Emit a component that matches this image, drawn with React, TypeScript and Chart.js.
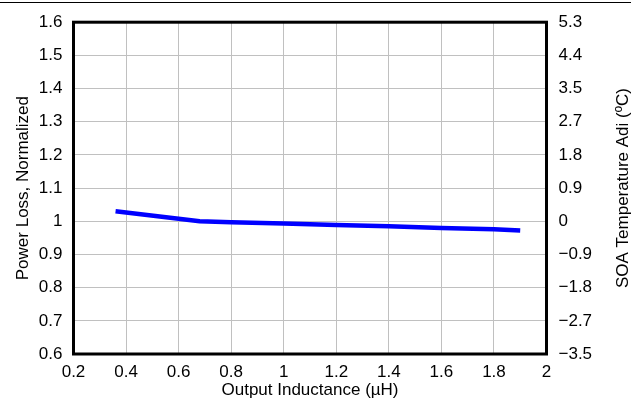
import React, { useEffect, useRef } from "react";
import { Chart, registerables } from "chart.js";

Chart.register(...registerables);

const inductance = [0.36, 0.68, 0.8, 1.0, 1.2, 1.4, 1.6, 1.8, 1.9];
const powerLoss = [1.03, 1.0, 0.997, 0.993, 0.989, 0.985, 0.98, 0.976, 0.972];
const rightTickLabels = ["−3.5", "−2.7", "−1.8", "−0.9", "0", "0.9", "1.8", "2.7", "3.5", "4.4", "5.3"];
const xTitle = "Output Inductance (µH)";
const yTitle = "Power Loss, Normalized";
const y2Title = "SOA Temperature Adi (ºC)";

const FONT = "'Liberation Sans', Arial, sans-serif";
const SIZE = 17;

const fmt = (v: any) => String(Number(Number(v).toFixed(2)));

export default function App() {
  const ref = useRef<HTMLCanvasElement | null>(null);
  useEffect(() => {
    if (!ref.current) return;
    const frame = {
      id: "frame",
      afterDatasetsDraw(chart: any) {
        const { ctx, chartArea } = chart;
        ctx.save();
        ctx.strokeStyle = "#000";
        ctx.lineWidth = 3;
        ctx.strokeRect(chartArea.left, chartArea.top, chartArea.right - chartArea.left, chartArea.bottom - chartArea.top);
        ctx.restore();
      },
      afterDraw(chart: any) {
        const { ctx, chartArea } = chart;
        const midY = (chartArea.top + chartArea.bottom) / 2;
        ctx.save();
        ctx.fillStyle = "#000";
        ctx.font = `${SIZE}px ${FONT}`;
        ctx.textAlign = "center";
        ctx.textBaseline = "alphabetic";
        ctx.fillText(xTitle, (chartArea.left + chartArea.right) / 2, 395);
        ctx.save();
        ctx.translate(28, midY);
        ctx.rotate(-Math.PI / 2);
        ctx.fillText(yTitle, 0, 0);
        ctx.restore();
        ctx.save();
        ctx.translate(628, midY);
        ctx.rotate(-Math.PI / 2);
        ctx.fillText(y2Title, 0, 0);
        ctx.restore();
        ctx.restore();
      },
    };
    const chart = new Chart(ref.current, {
      type: "line",
      data: {
        datasets: [
          {
            data: inductance.map((x, i) => ({ x, y: powerLoss[i] })),
            borderColor: "#0000ff",
            borderWidth: 4.5,
            pointRadius: 0,
            tension: 0,
            yAxisID: "y",
          },
        ],
      },
      options: {
        animation: false,
        responsive: false,
        devicePixelRatio: 1,
        layout: { padding: { top: 17, left: 0, right: 0, bottom: 0 } },
        plugins: { legend: { display: false }, tooltip: { enabled: false } },
        scales: {
          x: {
            type: "linear",
            min: 0.2,
            max: 2,
            ticks: { stepSize: 0.2, color: "#000", font: { family: FONT, size: SIZE }, padding: 8, maxRotation: 0, callback: fmt },
            grid: { color: "#c0c0c0", lineWidth: 1, drawTicks: false },
            border: { display: false },
            afterFit(s: any) { s.height = 53; },
          },
          y: {
            type: "linear",
            position: "left",
            min: 0.6,
            max: 1.6,
            ticks: { stepSize: 0.1, color: "#000", font: { family: FONT, size: SIZE }, padding: 11, callback: fmt },
            grid: { color: "#c0c0c0", lineWidth: 1, drawTicks: false },
            border: { display: false },
            afterFit(s: any) { s.width = 73.5; },
          },
          y2: {
            type: "linear",
            position: "right",
            min: 0.6,
            max: 1.6,
            ticks: {
              stepSize: 0.1,
              color: "#000",
              font: { family: FONT, size: SIZE },
              padding: 12,
              callback: (_v: any, i: number) => rightTickLabels[i],
            },
            grid: { display: false, drawTicks: false },
            border: { display: false },
            afterFit(s: any) { s.width = 84.5; },
          },
        },
      },
      plugins: [frame],
    } as any);
    return () => chart.destroy();
  }, []);
  return (
    <div style={{ position: "fixed", left: 0, top: 0, width: 631, height: 407, background: "#fff" }}>
      <div style={{ position: "absolute", left: 0, top: 2, width: 631, height: 1, background: "#000" }} />
      <canvas ref={ref} width={631} height={407} style={{ display: "block" }} />
    </div>
  );
}
